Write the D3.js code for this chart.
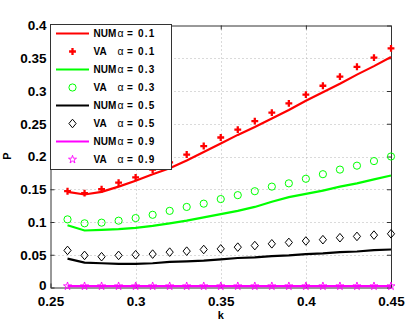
<!DOCTYPE html>
<html><head><meta charset="utf-8">
<script src="https://cdn.jsdelivr.net/npm/d3@7"></script>
<style>
html,body{margin:0;padding:0;background:#fff;}
svg{display:block;font-family:"Liberation Sans",Arial,Helvetica,sans-serif;}
</style></head>
<body>
<svg id="chart" width="407" height="331"></svg>
<script>
const kValues = [0.26,0.27,0.28,0.29,0.30,0.31,0.32,0.33,0.34,0.35,0.36,0.37,0.38,0.39,0.40,0.41,0.42,0.43,0.44,0.45];
const numA01 = [0.146,0.142,0.146,0.154,0.163,0.173,0.182,0.194,0.207,0.220,0.233,0.245,0.258,0.271,0.285,0.298,0.311,0.325,0.338,0.352];
const vaA01  = [0.147,0.144,0.150,0.160,0.168,0.180,0.191,0.203,0.216,0.229,0.241,0.254,0.267,0.281,0.2945,0.308,0.322,0.337,0.351,0.365];
const numA03 = [0.095,0.087,0.088,0.089,0.091,0.094,0.098,0.102,0.107,0.112,0.117,0.123,0.131,0.138,0.143,0.148,0.154,0.159,0.165,0.171];
const vaA03  = [0.104,0.098,0.099,0.102,0.106,0.111,0.117,0.123,0.128,0.135,0.141,0.147,0.154,0.159,0.166,0.173,0.180,0.186,0.193,0.200];
const numA05 = [0.044,0.038,0.037,0.036,0.036,0.037,0.039,0.040,0.041,0.043,0.045,0.046,0.048,0.049,0.051,0.052,0.054,0.055,0.057,0.058];
const vaA05  = [0.0566,0.049,0.047,0.049,0.050,0.051,0.054,0.0555,0.058,0.059,0.0616,0.064,0.0667,0.0688,0.071,0.073,0.076,0.078,0.080,0.082];
const numA09 = [0.002,0.002,0.002,0.002,0.002,0.002,0.002,0.002,0.002,0.002,0.002,0.002,0.002,0.002,0.002,0.002,0.002,0.002,0.002,0.002];
const vaA09  = [0.002,0.002,0.002,0.002,0.002,0.002,0.002,0.002,0.002,0.002,0.002,0.002,0.002,0.002,0.002,0.002,0.002,0.002,0.002,0.002];
const xTicks = [0.25,0.3,0.35,0.4,0.45];
const xTickLabels = ["0.25","0.3","0.35","0.4","0.45"];
const yTicks = [0,0.05,0.1,0.15,0.2,0.25,0.3,0.35,0.4];
const yTickLabels = ["0","0.05","0.1","0.15","0.2","0.25","0.3","0.35","0.4"];
const alphaLabels = ["0.1","0.3","0.5","0.9"];
const xLabel = "k", yLabel = "P";

const svg = d3.select("#chart");
const L = 50.5, R = 391, T = 25.5, B = 287.5;
const x = d3.scaleLinear().domain([0.25,0.45]).range([L,R]);
const y = d3.scaleLinear().domain([0,0.4]).range([B,T]);

// grid
const grid = svg.append("g").attr("stroke","#b4b4b4").attr("stroke-width",1).attr("stroke-dasharray","1,3");
xTicks.slice(1,-1).forEach(t=>grid.append("line").attr("x1",Math.round(x(t))+0.5).attr("x2",Math.round(x(t))+0.5).attr("y1",T).attr("y2",B));
yTicks.slice(1,-1).forEach(t=>grid.append("line").attr("y1",Math.round(y(t))+0.5).attr("y2",Math.round(y(t))+0.5).attr("x1",L).attr("x2",R));

// axes via d3 axis
const fontTick = "bold 13.5px 'Liberation Sans', Arial, sans-serif";
const xAxis = svg.append("g").attr("transform",`translate(0,${B})`)
  .call(d3.axisBottom(x).tickValues(xTicks).tickFormat((d,i)=>xTickLabels[i]).tickSizeInner(-4).tickSizeOuter(0).tickPadding(9));
const yAxis = svg.append("g").attr("transform",`translate(${L},0)`)
  .call(d3.axisLeft(y).tickValues(yTicks).tickFormat((d,i)=>yTickLabels[i]).tickSizeInner(-4).tickSizeOuter(0).tickPadding(4));
[xAxis,yAxis].forEach(a=>{
  a.select(".domain").attr("stroke","#333");
  a.selectAll(".tick line").attr("stroke","#333");
  a.selectAll(".tick text").style("font",fontTick).attr("fill","#000");
});
yAxis.selectAll(".tick text").filter(d=>d===0).attr("dy","0.15em");
// top/right ticks + box
const topAx = svg.append("g").attr("transform",`translate(0,${T})`)
  .call(d3.axisTop(x).tickValues(xTicks).tickSizeInner(-4).tickSizeOuter(0).tickFormat(""));
const rightAx = svg.append("g").attr("transform",`translate(${R},0)`)
  .call(d3.axisRight(y).tickValues(yTicks).tickSizeInner(-4).tickSizeOuter(0).tickFormat(""));
[topAx,rightAx].forEach(a=>{a.select(".domain").attr("stroke","#333"); a.selectAll(".tick line").attr("stroke","#333");});

// labels
svg.append("text").attr("x",(L+R)/2).attr("y",319).attr("text-anchor","middle")
  .style("font","bold 11px 'Liberation Sans', Arial, sans-serif").text(xLabel);
svg.append("text").attr("transform",`translate(11,156) rotate(-90)`).attr("text-anchor","middle")
  .style("font","bold 11px 'Liberation Sans', Arial, sans-serif").text(yLabel);

// series
const series = [
  {num:numA01, va:vaA01, color:"#ff0000", marker:"plus"},
  {num:numA03, va:vaA03, color:"#00ff00", marker:"circle"},
  {num:numA05, va:vaA05, color:"#000000", marker:"diamond"},
  {num:numA09, va:vaA09, color:"#ff00ff", marker:"star"},
];
const line = d3.line().x(d=>x(d[0])).y(d=>y(d[1]));
const plot = svg.append("g");

function drawMarker(g, type, color, cx, cy){
  if(type==="plus"){
    g.append("path").attr("d",d3.symbol(d3.symbolCross,26)()).attr("transform",`translate(${cx},${cy})`).attr("fill",color);
  } else if(type==="circle"){
    g.append("circle").attr("cx",cx).attr("cy",cy).attr("r",3.6).attr("fill","none").attr("stroke",color).attr("stroke-width",1);
  } else if(type==="diamond"){
    g.append("path").attr("d",`M0,-4.3L3.6,0L0,4.3L-3.6,0Z`).attr("transform",`translate(${cx},${cy})`).attr("fill","none").attr("stroke",color).attr("stroke-width",1);
  } else if(type==="star"){
    g.append("path").attr("d",d3.symbol(d3.symbolStar,20)()).attr("transform",`translate(${cx},${cy})`).attr("fill","none").attr("stroke",color).attr("stroke-width",0.9);
  }
}

series.forEach(s=>{
  const pts = kValues.map((k,i)=>[k,s.num[i]]);
  plot.append("path").datum(pts).attr("d",line).attr("fill","none").attr("stroke",s.color).attr("stroke-width",2.2);
});
series.forEach(s=>{
  kValues.forEach((k,i)=>drawMarker(plot,s.marker,s.color,x(k),y(s.va[i])));
});

// legend
const lg = svg.append("g");
lg.append("rect").attr("x",50.5).attr("y",24.5).attr("width",121).attr("height",145).attr("fill","#fff").attr("stroke","#333").attr("stroke-width",1);
const rowY0 = 33.5, rowStep = 18;
const legFont = "bold 10px 'Liberation Sans', Arial, sans-serif";
series.forEach((s,i)=>{
  const y1 = rowY0 + (2*i)*rowStep, y2 = rowY0 + (2*i+1)*rowStep;
  lg.append("line").attr("x1",56).attr("x2",89).attr("y1",y1).attr("y2",y1).attr("stroke",s.color).attr("stroke-width",2.2);
  drawMarker(lg,s.marker,s.color,72.5,y2);
  [[y1,"NUM",117.5],[y2,"VA",117.5]].forEach(([yy,pre,ax])=>{
    lg.append("text").attr("x",93.5).attr("y",yy+3.8).style("font",legFont).text(pre);
    lg.append("text").attr("x",ax).attr("y",yy+3.8).style("font","normal 10.5px 'Liberation Sans', Arial, sans-serif").text("α");
    lg.append("text").attr("x",127).attr("y",yy+3.8).style("font",legFont).text("=");
    lg.append("text").attr("x",138).attr("y",yy+3.8).style("font",legFont).attr("letter-spacing","1.2").text(alphaLabels[i]);
  });
});
</script>
</body></html>
